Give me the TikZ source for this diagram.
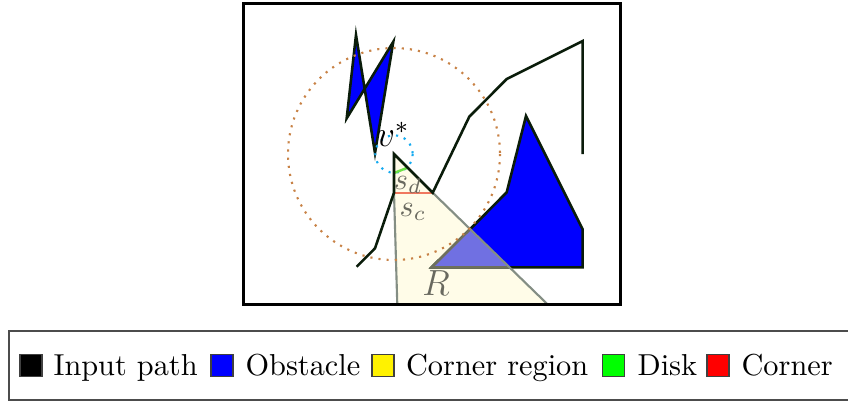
\documentclass[tikz,border=0pt]{standalone}
\begin{document}
\definecolor{pathcol}{RGB}{10,28,10}
\definecolor{creamcol}{RGB}{255,252,232}
\definecolor{lavcol}{RGB}{112,112,226}
\definecolor{rgray}{RGB}{132,142,132}
\definecolor{olivegray}{RGB}{110,112,92}
\definecolor{lblgray}{RGB}{105,105,95}
\definecolor{orangedot}{RGB}{200,130,70}
\definecolor{cyandot}{RGB}{20,170,240}
\definecolor{diskcol}{RGB}{110,225,70}
\definecolor{cornercol}{RGB}{240,120,95}
\begin{tikzpicture}[x=0.33pt,y=-0.33pt,
  pathline/.style={draw=pathcol,line width=0.85pt,line join=miter},
  obst/.style={fill=blue,draw=pathcol,line width=0.85pt,line join=miter},
  regionline/.style={draw=rgray,line width=0.7pt},
  legsq/.style={minimum size=7.3pt,inner sep=0pt,draw=black!75,line width=0.4pt},
  legtxt/.style={anchor=base west,inner sep=0pt},
  lbl/.style={text=lblgray,inner sep=0pt}]
\useasboundingbox (0,0) rectangle (848,402);
% key points
\coordinate (p1) at (356.7,266.7);
\coordinate (p2) at (375,248.3);
\coordinate (p3) at (394,192.7);
\coordinate (vs) at (394,154);
\coordinate (p5) at (432.7,192.7);
\coordinate (p6) at (469.3,116.7);
\coordinate (p7) at (506.7,79);
\coordinate (p8) at (582.7,41);
\coordinate (p9) at (582.7,154);
\coordinate (cl) at (397.3,305);
\coordinate (cr) at (548.3,305);
\coordinate (ra) at (470,229.3);
\coordinate (rb) at (431.7,267.3);
\coordinate (rc) at (509.5,267.3);
% corner region fill
\begin{scope}
\clip (243.3,3.3) rectangle (620.8,304.7);
\fill[creamcol] (vs) -- (p5) -- (cr) -- (cl) -- (p3) -- cycle;
\end{scope}
% obstacles
\draw[obst] (356,35) -- (375,153) -- (393.3,41.7) -- (346.7,118.3) -- cycle;
\draw[obst] (526,116) -- (506.7,192.3) -- (ra) -- (rb) -- (582.7,267.3) -- (582.7,229.3) -- cycle;
% intersection R
\fill[lavcol] (ra) -- (rb) -- (rc) -- cycle;
\draw[draw=olivegray,line width=0.8pt] (ra) -- (rb) -- (rc);
% corner region borders
\draw[regionline] (p3) -- (cl);
\draw[regionline] (p5) -- (cr);
% circles
\draw[orangedot,line width=0.7pt,dotted] (vs) circle[radius=106];
\draw[cyandot,line width=0.7pt,dotted] (vs) circle[radius=18.7];
% disk and corner segments
\coordinate (g1) at (394,173);
\coordinate (g2) at (406.7,168);
\draw[diskcol,line width=0.8pt] (g1) -- (g2);
\draw[cornercol,line width=0.8pt] (p3) -- (p5);
% input path
\draw[pathline] (p1) -- (p2) -- (p3) -- (vs) -- (p5) -- (p6) -- (p7) -- (p8) -- (p9);
% labels
\node[inner sep=0pt,font=\large] (vlab) at (393,134) {$v^*$};
\node[lbl] (sd) at (408,185) {$s_d$};
\node[lbl] (sc) at (413,212) {$s_c$};
\node[lbl,font=\large] (rl) at (436,283) {$R$};
% frame
\draw[line width=1pt] (243.3,3.3) rectangle (620.8,304.7);
% legend
\draw[draw=black!70,line width=0.5pt] (9,331) rectangle (856,400);
\node[legsq,fill=black] (k1) at (31,365.5) {};
\node[legtxt] (t1) at (53,375) {Input path};
\node[legsq,fill=blue] (k2) at (222,365.5) {};
\node[legtxt] (t2) at (245,375) {Obstacle};
\node[legsq,fill=yellow] (k3) at (383,365.5) {};
\node[legtxt] (t3) at (405.5,375) {Corner region};
\node[legsq,fill=green] (k4) at (613.5,365.5) {};
\node[legtxt] (t4) at (637,375) {Disk};
\node[legsq,fill=red] (k5) at (718,365.5) {};
\node[legtxt] (t5) at (741,375) {Corner};
\end{tikzpicture}
\end{document}
